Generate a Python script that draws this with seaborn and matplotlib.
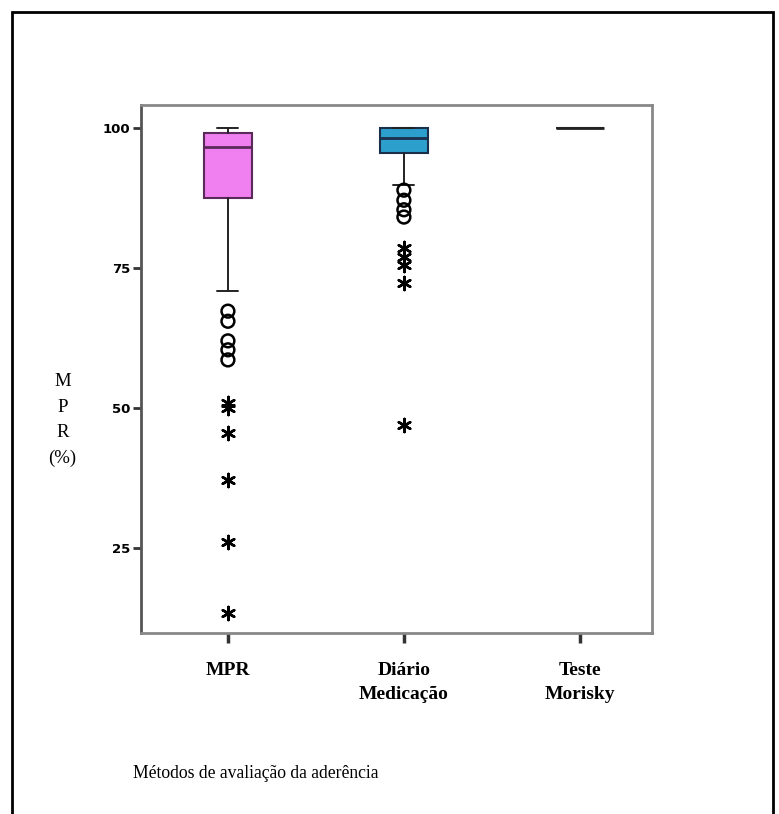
import numpy as np
import pandas as pd
import matplotlib
matplotlib.use("Agg")
import matplotlib.pyplot as plt
import seaborn as sns
from matplotlib.patches import Rectangle

# ---- data ----
categories = ["MPR", "Diário\nMedicação", "Teste\nMorisky"]
q1 = [87.5, 95.5, 100.0]
median = [96.6, 98.2, 100.0]
q3 = [99.1, 100.0, 100.0]
whisker_low = [70.9, 89.8, 100.0]
whisker_high = [100.0, 100.0, 100.0]
# outliers (circles) and extreme values (asterisks)
mpr_circles = [67.3, 65.5, 62.0, 60.4, 58.6]
mpr_stars = [50.9, 50.0, 45.5, 37.1, 26.1, 13.4]
diario_circles = [88.9, 87.1, 85.4, 84.1]
diario_stars = [78.6, 77.0, 75.5, 72.3, 47.0]
yticks = [25, 50, 75, 100]

box_faces = ["#F07FF0", "#2C9FCC", "#FFFFFF"]
box_edges = ["#5A2A5A", "#1C2F4A", "#333333"]

sns.set_theme(style="white")
plt.rcParams["font.family"] = ["DejaVu Sans"]
plt.rcParams["text.color"] = "black"
plt.rcParams["xtick.color"] = "black"
plt.rcParams["ytick.color"] = "black"

fig = plt.figure(figsize=(7.79, 8.14), dpi=100)
ax = fig.add_axes([0.181, 0.222, 0.656, 0.649])

stats = []
for i in range(3):
    stats.append(dict(q1=q1[i], med=median[i], q3=q3[i],
                      whislo=whisker_low[i], whishi=whisker_high[i],
                      fliers=[], label=categories[i]))
bp = ax.bxp(stats, positions=[0, 1, 2], widths=0.275, patch_artist=True,
            showfliers=False, manage_ticks=False)
for i, b in enumerate(bp["boxes"]):
    b.set_facecolor(box_faces[i])
    b.set_edgecolor(box_edges[i])
    b.set_linewidth(1.5)
for i, m in enumerate(bp["medians"]):
    m.set_color(box_edges[i] if i < 2 else "#222222")
    m.set_linewidth(2.0)
for w in bp["whiskers"]:
    w.set_color("#222222"); w.set_linewidth(1.4)
for c in bp["caps"]:
    c.set_color("#222222"); c.set_linewidth(1.4)
    xd = c.get_xdata()
    mid = (xd[0] + xd[1]) / 2
    c.set_xdata([mid - 0.06, mid + 0.06])

circ = pd.DataFrame({"x": [0] * len(mpr_circles) + [1] * len(diario_circles),
                     "y": mpr_circles + diario_circles})
star = pd.DataFrame({"x": [0] * len(mpr_stars) + [1] * len(diario_stars),
                     "y": mpr_stars + diario_stars})
sns.scatterplot(data=circ, x="x", y="y", ax=ax, marker="o", s=85,
                facecolor="none", edgecolor="black", linewidth=1.8, zorder=5)
sns.scatterplot(data=star, x="x", y="y", ax=ax, marker=(6, 2, 0), s=90,
                color="black", linewidth=1.8, zorder=5)

ax.set_xlim(-0.494, 2.41)
ax.set_ylim(9.8, 104.1)
ax.set_xticks([0, 1, 2])
ax.set_xticklabels(categories, family=["Liberation Serif"], fontweight="bold",
                   fontsize=14, color="black")
for lab in ax.get_xticklabels():
    lab.set_linespacing(1.5)
ax.set_yticks(yticks)
ax.set_yticklabels([str(t) for t in yticks], fontweight="bold", fontsize=9.5,
                   family=["DejaVu Sans"], color="black")
ax.tick_params(axis="x", bottom=True, length=7, width=2.5, color="#333333",
               pad=14, direction="out")
ax.tick_params(axis="y", left=True, length=6, width=2.0, color="#333333",
               pad=2, direction="out")
ax.set_xlabel(""); ax.set_ylabel("")
for s in ax.spines.values():
    s.set_visible(True)
    s.set_color("#888888")
    s.set_linewidth(2.0)
ax.spines["left"].set_color("#555555")

fig.text(0.080, 0.484, "M\nP\nR\n(%)", ha="center", va="center",
         family=["Liberation Serif"], fontsize=13.5, linespacing=1.65,
         color="black")
fig.text(0.171, 0.050, "Métodos de avaliação da aderência", ha="left",
         va="center", family=["Liberation Serif"], fontsize=12.7, color="black")

fig.add_artist(Rectangle((12 / 779, -0.1), (773 - 12) / 779, 1.1 - 12 / 814,
                         transform=fig.transFigure, fill=False,
                         edgecolor="black", linewidth=2))

fig.savefig("out.png", dpi=100)
